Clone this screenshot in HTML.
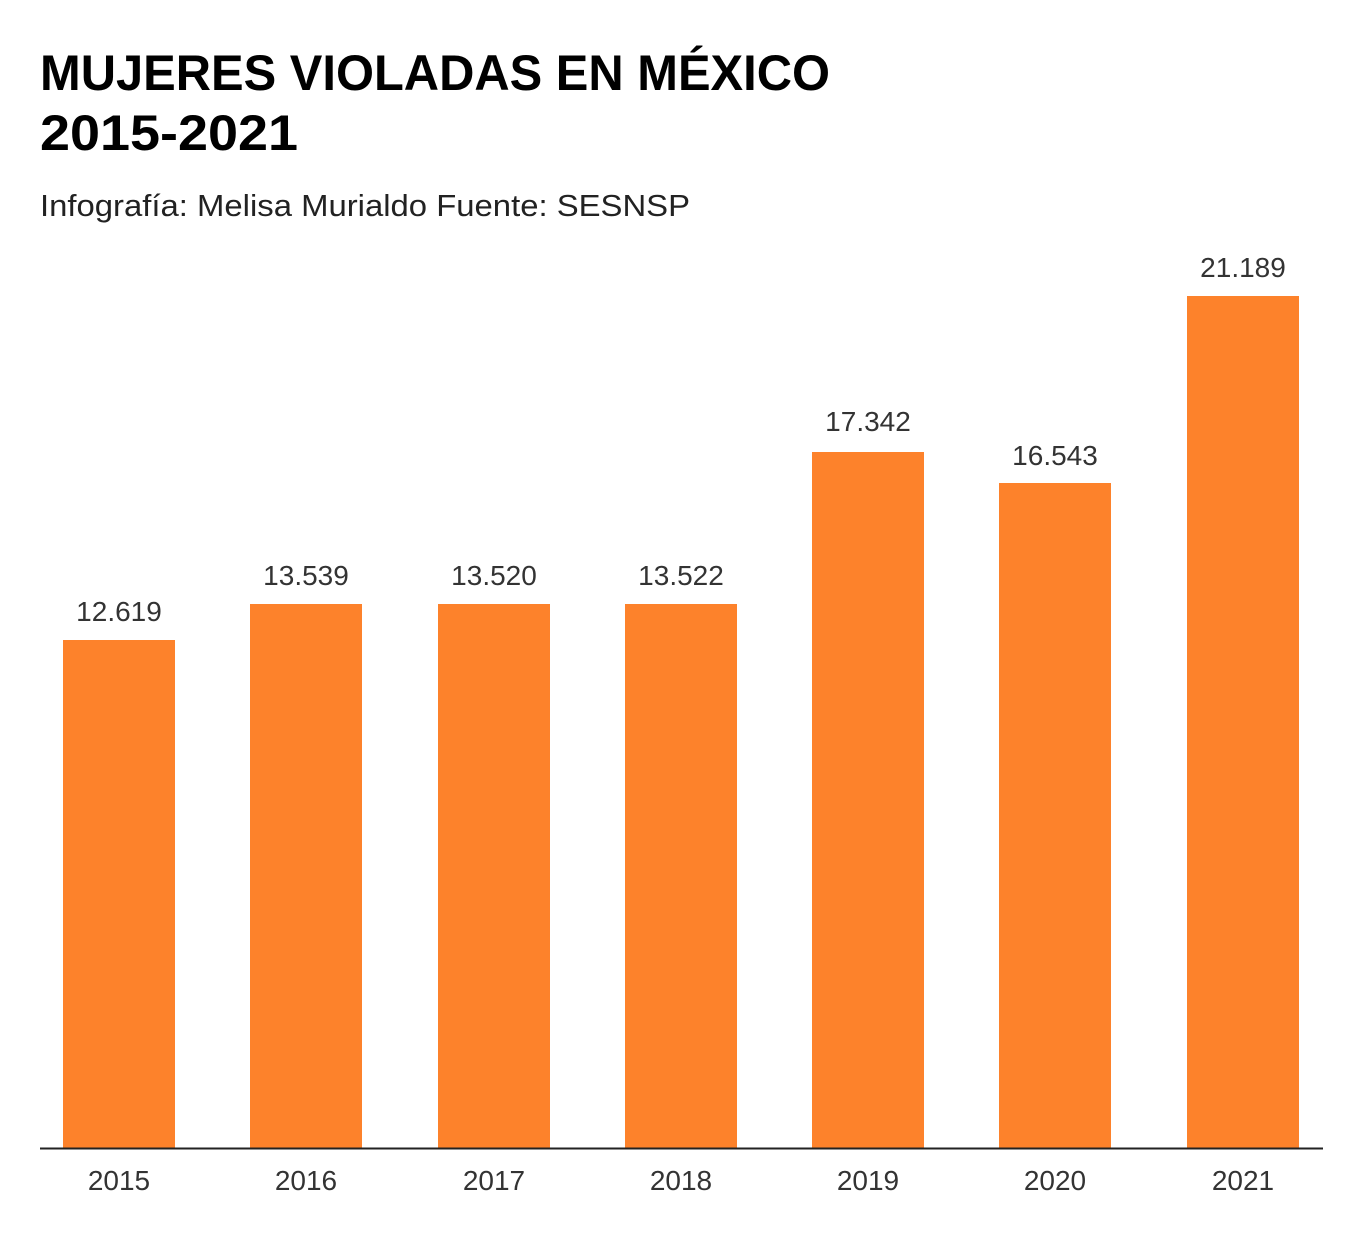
<!DOCTYPE html>
<html><head><meta charset="utf-8"><style>
body{margin:0;background:#fff;width:1358px;height:1228px;overflow:hidden;font-family:"Liberation Sans",sans-serif;}
</style></head><body>
<svg width="1358" height="1228" xmlns="http://www.w3.org/2000/svg" font-family="Liberation Sans, sans-serif">
<text x="40" y="90" font-size="50" font-weight="bold" fill="#000" textLength="790" lengthAdjust="spacingAndGlyphs">MUJERES VIOLADAS EN MÉXICO</text>
<text x="40" y="150" font-size="50" font-weight="bold" fill="#000" textLength="258" lengthAdjust="spacingAndGlyphs">2015-2021</text>
<text x="40" y="216" font-size="31" fill="#222" textLength="650" lengthAdjust="spacingAndGlyphs">Infografía: Melisa Murialdo Fuente: SESNSP</text>
<g fill="#fd822b">
<rect x="63" y="640" width="112" height="508"/>
<rect x="250" y="604" width="112" height="544"/>
<rect x="438" y="604" width="112" height="544"/>
<rect x="625" y="604" width="112" height="544"/>
<rect x="812" y="452" width="112" height="696"/>
<rect x="999" y="483" width="112" height="665"/>
<rect x="1187" y="296" width="112" height="852"/>
</g>
<line x1="40" y1="1148.5" x2="1323" y2="1148.5" stroke="#222" stroke-width="2"/>
<g font-size="28" fill="#333" text-anchor="middle">
<text x="119" y="621">12.619</text>
<text x="306" y="585">13.539</text>
<text x="494" y="585">13.520</text>
<text x="681" y="585">13.522</text>
<text x="868" y="431">17.342</text>
<text x="1055" y="465">16.543</text>
<text x="1243" y="277">21.189</text>
<text x="119" y="1190">2015</text>
<text x="306" y="1190">2016</text>
<text x="494" y="1190">2017</text>
<text x="681" y="1190">2018</text>
<text x="868" y="1190">2019</text>
<text x="1055" y="1190">2020</text>
<text x="1243" y="1190">2021</text>
</g>
</svg>
</body></html>
